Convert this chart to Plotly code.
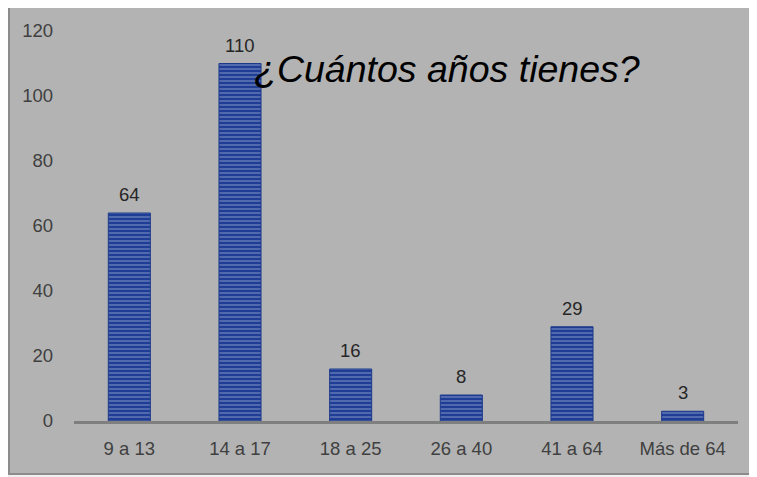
import plotly.graph_objects as go

categories = ["9 a 13", "14 a 17", "18 a 25", "26 a 40", "41 a 64", "Más de 64"]
values = [64, 110, 16, 8, 29, 3]
y_ticks = [0, 20, 40, 60, 80, 100, 120]
title_text = "¿Cuántos años tienes?"

# page is offset by 8px (body margin); figure sized to fit the window
OFF = 8
W, H = 757 - OFF, 477 - OFF
L, R, T, B = 74 - OFF, 757 - 738, 24 - OFF, 477 - 421
pw, ph = W - L - R, H - T - B

def px_x(p):  # page pixel -> paper x
    return (p - OFF - L) / pw

def px_y(p):  # page pixel -> paper y
    return (H - B - (p - OFF)) / ph

label_font = "Liberation Sans, Arial, sans-serif"
fs = 18.5

fig = go.Figure()
fig.add_trace(go.Bar(
    x=categories,
    y=values,
    marker=dict(
        color="#1f3d94",
        line=dict(color="#1c3a8a", width=1),
        pattern=dict(shape="-", size=4, solidity=0.3,
                     fgcolor="#7386c0", bgcolor="#1f3d94", fillmode="replace"),
    ),
    showlegend=False,
    hoverinfo="skip",
))

for c, v in zip(categories, values):
    fig.add_annotation(x=c, y=v, text=str(v), showarrow=False,
                       yanchor="bottom", yshift=6,
                       font=dict(family=label_font, size=fs, color="#262626"))

fig.add_annotation(xref="paper", yref="paper", x=px_x(252), y=px_y(63),
                   xanchor="left", yanchor="middle", text="<i>" + title_text + "</i>",
                   showarrow=False,
                   font=dict(family="Liberation Sans, Arial, sans-serif", size=37.5, color="#000000"))

fig.add_shape(type="rect", xref="paper", yref="paper",
              x0=px_x(9), x1=px_x(800), y0=px_y(475), y1=px_y(-20),
              fillcolor="#b3b3b3", line=dict(color="#8c8c8c", width=2), layer="below")

fig.update_layout(
    width=W, height=H,
    margin=dict(l=L, r=R, t=T, b=B),
    paper_bgcolor="#f0f0f0",
    plot_bgcolor="rgba(0,0,0,0)",
    bargap=0.62,
    xaxis=dict(showgrid=False, showline=True, linecolor="#7f7f7f", linewidth=3,
               ticks="", ticklabelstandoff=9,
               tickfont=dict(family=label_font, size=fs, color="#404040")),
    yaxis=dict(range=[0, 120], tickvals=y_ticks, showgrid=False, showline=False,
               zeroline=False, ticks="", ticklabelstandoff=20,
               tickfont=dict(family=label_font, size=fs, color="#404040")),
)

fig.write_html("out.html")
